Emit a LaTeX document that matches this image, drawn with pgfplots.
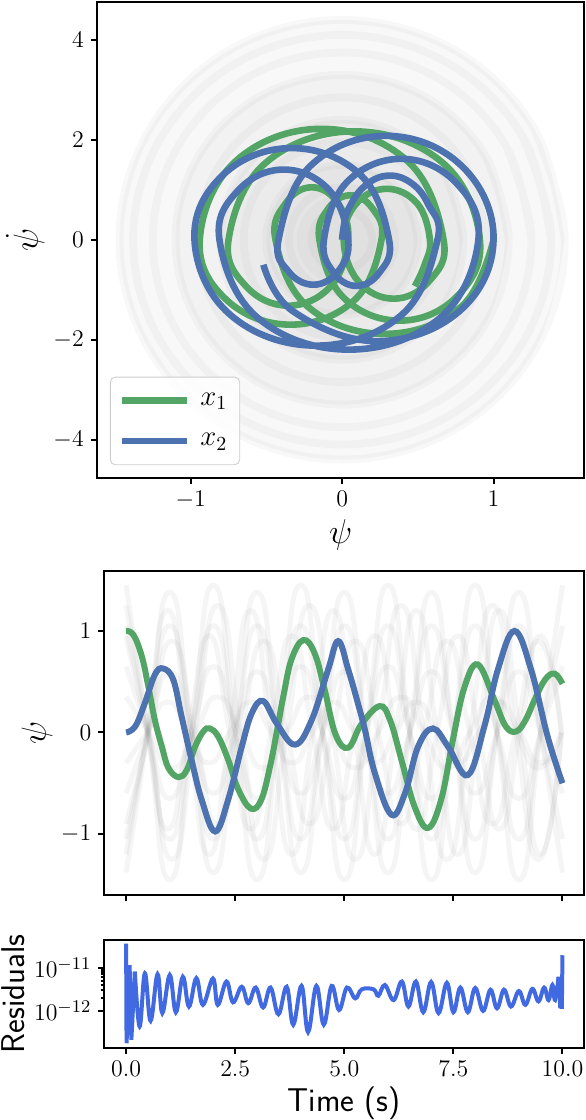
\documentclass[border=0pt]{standalone}
\usepackage{pgfplots}
\pgfplotsset{compat=1.18}
\usepackage{pgfplotstable}
\definecolor{sbgreen}{RGB}{82,165,100}
\definecolor{sbblue}{RGB}{76,114,176}
\definecolor{resblue}{RGB}{65,105,225}

% gray background trajectories, period 2.0
\pgfplotstableread{
t g1 g2 g7 g8 g11 g12
0 1.45 -1.38 0.65 -0.60 1.05 -1.05
0.5 0 0 0 0 0 0
1 -1.45 1.38 -0.65 0.60 -1.05 1.05
1.5 0 0 0 0 0 0
2 1.45 -1.38 0.65 -0.60 1.05 -1.05
2.5 0 0 0 0 0 0
3 -1.45 1.38 -0.65 0.60 -1.05 1.05
3.5 0 0 0 0 0 0
4 1.45 -1.38 0.65 -0.60 1.05 -1.05
4.5 0 0 0 0 0 0
5 -1.45 1.38 -0.65 0.60 -1.05 1.05
5.5 0 0 0 0 0 0
6 1.45 -1.38 0.65 -0.60 1.05 -1.05
6.5 0 0 0 0 0 0
7 -1.45 1.38 -0.65 0.60 -1.05 1.05
7.5 0 0 0 0 0 0
8 1.45 -1.38 0.65 -0.60 1.05 -1.05
8.5 0 0 0 0 0 0
9 -1.45 1.38 -0.65 0.60 -1.05 1.05
9.5 0 0 0 0 0 0
10 1.45 -1.38 0.65 -0.60 1.05 -1.05
}\grayA
% period 2.1
\pgfplotstableread{
t g3 g6 g9
0 1.25 -0.9 0.35
0.525 0 0 0
1.05 -1.25 0.9 -0.35
1.575 0 0 0
2.1 1.25 -0.9 0.35
2.625 0 0 0
3.15 -1.25 0.9 -0.35
3.675 0 0 0
4.2 1.25 -0.9 0.35
4.725 0 0 0
5.25 -1.25 0.9 -0.35
5.775 0 0 0
6.3 1.25 -0.9 0.35
6.825 0 0 0
7.35 -1.25 0.9 -0.35
7.875 0 0 0
8.4 1.25 -0.9 0.35
8.925 0 0 0
9.45 -1.25 0.9 -0.35
9.975 0 0 0
}\grayB
% period 1.9
\pgfplotstableread{
t g4 g5 g10
0 -1.2 0.95 -0.3
0.475 0 0 0
0.95 1.2 -0.95 0.3
1.425 0 0 0
1.9 -1.2 0.95 -0.3
2.375 0 0 0
2.85 1.2 -0.95 0.3
3.325 0 0 0
3.8 -1.2 0.95 -0.3
4.275 0 0 0
4.75 1.2 -0.95 0.3
5.225 0 0 0
5.7 -1.2 0.95 -0.3
6.175 0 0 0
6.65 1.2 -0.95 0.3
7.125 0 0 0
7.6 -1.2 0.95 -0.3
8.075 0 0 0
8.55 1.2 -0.95 0.3
9.025 0 0 0
9.5 -1.2 0.95 -0.3
9.975 0 0 0
}\grayC

% x1 time series
\pgfplotstableread{
t psi
0 1.0
0.17 0.96
0.36 0.75
0.51 0.45
0.66 0.12
0.82 -0.14
0.97 -0.35
1.20 -0.44
1.39 -0.37
1.58 -0.14
1.77 0.01
1.92 0.04
2.11 -0.04
2.34 -0.27
2.57 -0.56
2.86 -0.75
3.10 -0.66
3.30 -0.33
3.45 0.0
3.60 0.35
3.79 0.72
4.06 0.91
4.32 0.78
4.55 0.42
4.80 -0.02
5.09 -0.15
5.39 0.08
5.81 0.26
6.05 0.12
6.31 -0.27
6.61 -0.73
6.92 -0.94
7.22 -0.66
7.49 -0.07
7.75 0.44
8.06 0.67
8.44 0.32
8.70 0.06
8.94 0.01
9.15 0.12
9.36 0.32
9.60 0.52
9.82 0.58
10.0 0.48
}\xone
% x2 time series
\pgfplotstableread{
t psi
0 0
0.21 0.06
0.43 0.29
0.66 0.57
0.85 0.63
1.08 0.52
1.27 0.16
1.50 -0.27
1.73 -0.66
2.04 -0.975
2.34 -0.66
2.65 -0.14
2.88 0.19
3.14 0.31
3.45 0.09
3.87 -0.12
4.25 0.12
4.63 0.62
4.86 0.90
5.09 0.62
5.31 0.29
5.47 0.03
5.70 -0.40
6.08 -0.81
6.39 -0.60
6.69 -0.14
7.03 0.04
7.38 -0.14
7.83 -0.42
8.21 0.06
8.52 0.62
8.90 1.0
9.28 0.62
9.66 -0.04
10.0 -0.50
}\xtwo

\pgfplotsset{
  every axis/.append style={
    scale only axis,
    axis line style={line width=1bp},
    every tick/.style={line width=1bp, black},
    tick align=outside,
    major tick length=3bp,
    minor tick length=1.8bp,
    xtick pos=left, ytick pos=left,
    tick label style={font=\fontsize{12.5}{15}\selectfont},
    label style={font=\fontsize{16.5}{20}\selectfont},
  },
  gr/.style={color=black!50, draw opacity=0.08, line width=2.5bp, smooth, tension=1, forget plot},
  ring/.style={color=black!50, draw opacity=0.06, line width=4bp, smooth, tension=0.63, forget plot},
  disk/.style={fill=black!50, fill opacity=0.055, draw=none, smooth, tension=0.63, forget plot},
}

\begin{document}
\begin{tikzpicture}
\useasboundingbox (0,0) rectangle (293bp,560bp);

% ---------------- phase portrait ----------------
\begin{axis}[
  at={(48.4bp,321bp)}, anchor=south west,
  width=243.8bp, height=238bp,
  xmin=-1.62, xmax=1.60, ymin=-4.77, ymax=4.76,
  xtick={-1,0,1}, ytick={-4,-2,0,2,4},
  xlabel={$\psi$}, ylabel={$\dot{\psi}$},
  xlabel style={at={(axis description cs:0.5,0)}, anchor=base, yshift=-32.8bp},
  ylabel style={at={(axis description cs:-0.1214,0.5)}, anchor=base},
  legend style={at={(axis description cs:0.027,0.027)}, anchor=south west,
    draw=black!20, rounded corners=2.5bp, fill=white, fill opacity=0.8, text opacity=1,
    font=\fontsize{14}{16}\selectfont, row sep=8.5bp, inner xsep=4.2bp, inner ysep=6bp,
    cells={anchor=west}, /tikz/every odd column/.append style={column sep=3bp}},
  legend image code/.code={\draw[#1] (0bp,0bp) -- (32.5bp,0bp);},
]
\addplot[disk] coordinates {(1.47,0)(1.273,2.2)(0.735,3.81)(0,4.4)(-0.735,3.81)(-1.273,2.2)(-1.47,0)(-1.273,-2.2)(-0.735,-3.81)(0,-4.4)(0.735,-3.81)(1.273,-2.2)(1.47,0)} -- cycle;
\addplot[disk] coordinates {(1.1,0)(0.953,1.65)(0.55,2.858)(0,3.3)(-0.55,2.858)(-0.953,1.65)(-1.1,0)(-0.953,-1.65)(-0.55,-2.858)(0,-3.3)(0.55,-2.858)(0.953,-1.65)(1.1,0)} -- cycle;
\addplot[disk] coordinates {(0.8,0)(0.693,1.2)(0.4,2.078)(0,2.4)(-0.4,2.078)(-0.693,1.2)(-0.8,0)(-0.693,-1.2)(-0.4,-2.078)(0,-2.4)(0.4,-2.078)(0.693,-1.2)(0.8,0)} -- cycle;
\addplot[disk] coordinates {(0.5,0)(0.433,0.75)(0.25,1.299)(0,1.5)(-0.25,1.299)(-0.433,0.75)(-0.5,0)(-0.433,-0.75)(-0.25,-1.299)(0,-1.5)(0.25,-1.299)(0.433,-0.75)(0.5,0)} -- cycle;
\addplot[disk] coordinates {(0.3,0)(0.26,0.45)(0.15,0.779)(0,0.9)(-0.15,0.779)(-0.26,0.45)(-0.3,0)(-0.26,-0.45)(-0.15,-0.779)(0,-0.9)(0.15,-0.779)(0.26,-0.45)(0.3,0)} -- cycle;
\addplot[ring] coordinates {(0.2,0)(0.173,0.3)(0.1,0.52)(0,0.6)(-0.1,0.52)(-0.173,0.3)(-0.2,0)(-0.173,-0.3)(-0.1,-0.52)(0,-0.6)(0.1,-0.52)(0.173,-0.3)(0.2,0)(0.173,0.3)};
\addplot[ring] coordinates {(0.35,0)(0.303,0.525)(0.175,0.909)(0,1.05)(-0.175,0.909)(-0.303,0.525)(-0.35,0)(-0.303,-0.525)(-0.175,-0.909)(0,-1.05)(0.175,-0.909)(0.303,-0.525)(0.35,0)(0.303,0.525)};
\addplot[ring] coordinates {(0.5,0)(0.433,0.75)(0.25,1.299)(0,1.5)(-0.25,1.299)(-0.433,0.75)(-0.5,0)(-0.433,-0.75)(-0.25,-1.299)(0,-1.5)(0.25,-1.299)(0.433,-0.75)(0.5,0)(0.433,0.75)};
\addplot[ring] coordinates {(0.65,0)(0.563,0.975)(0.325,1.689)(0,1.95)(-0.325,1.689)(-0.563,0.975)(-0.65,0)(-0.563,-0.975)(-0.325,-1.689)(0,-1.95)(0.325,-1.689)(0.563,-0.975)(0.65,0)(0.563,0.975)};
\addplot[ring] coordinates {(0.8,0)(0.693,1.2)(0.4,2.078)(0,2.4)(-0.4,2.078)(-0.693,1.2)(-0.8,0)(-0.693,-1.2)(-0.4,-2.078)(0,-2.4)(0.4,-2.078)(0.693,-1.2)(0.8,0)(0.693,1.2)};
\addplot[ring] coordinates {(0.95,0)(0.823,1.425)(0.475,2.468)(0,2.85)(-0.475,2.468)(-0.823,1.425)(-0.95,0)(-0.823,-1.425)(-0.475,-2.468)(0,-2.85)(0.475,-2.468)(0.823,-1.425)(0.95,0)(0.823,1.425)};
\addplot[ring] coordinates {(1.1,0)(0.953,1.65)(0.55,2.858)(0,3.3)(-0.55,2.858)(-0.953,1.65)(-1.1,0)(-0.953,-1.65)(-0.55,-2.858)(0,-3.3)(0.55,-2.858)(0.953,-1.65)(1.1,0)(0.953,1.65)};
\addplot[ring] coordinates {(1.25,0)(1.083,1.875)(0.625,3.248)(0,3.75)(-0.625,3.248)(-1.083,1.875)(-1.25,0)(-1.083,-1.875)(-0.625,-3.248)(0,-3.75)(0.625,-3.248)(1.083,-1.875)(1.25,0)(1.083,1.875)};
\addplot[ring] coordinates {(1.38,0)(1.195,2.05)(0.69,3.551)(0,4.1)(-0.69,3.551)(-1.195,2.05)(-1.38,0)(-1.195,-2.05)(-0.69,-3.551)(0,-4.1)(0.69,-3.551)(1.195,-2.05)(1.38,0)(1.195,2.05)};
\addplot[ring] coordinates {(1.47,0)(1.273,2.2)(0.735,3.81)(0,4.4)(-0.735,3.81)(-1.273,2.2)(-1.47,0)(-1.273,-2.2)(-0.735,-3.81)(0,-4.4)(0.735,-3.81)(1.273,-2.2)(1.47,0)(1.273,2.2)};
% x1 phase
\addplot[sbgreen, line width=3.3bp, smooth, tension=0.68] coordinates {
(1.0,0)(0.789,-1.333)(0.28,-1.885)(-0.229,-1.333)
(-0.44,0)(-0.370,0.742)(-0.20,1.05)(-0.030,0.742)
(0.04,0)(-0.076,-0.933)(-0.355,-1.32)(-0.634,-0.933)
(-0.75,0)(-0.507,1.534)(0.08,2.17)(0.667,1.534)
(0.91,0)(0.755,-1.145)(0.38,-1.62)(0.005,-1.145)
(-0.15,0)(-0.090,0.629)(0.055,0.89)(0.200,0.629)
(0.26,0)(0.084,-1.202)(-0.34,-1.70)(-0.764,-1.202)
(-0.94,0)(-0.704,1.57)(-0.135,2.22)(0.434,1.57)
(0.67,0)(0.573,-0.834)(0.34,-1.18)(0.107,-0.834)
(0.01,0)(0.093,0.721)(0.295,1.02)(0.497,0.721)
(0.58,0)(0.545,-0.5)(0.48,-0.93)};
\addlegendentry{$x_1$}
% x2 phase
\addplot[sbblue, line width=3.3bp, smooth, tension=0.68] coordinates {
(0,0)(0.01,0.25)(0.04,0.6)(0.14,1.05)(0.29,1.28)(0.45,1.15)(0.57,0.7)
(0.63,0)(0.395,-1.499)(-0.1725,-2.12)(-0.740,-1.499)
(-0.975,0)(-0.787,1.297)(-0.3325,1.835)(0.122,1.297)
(0.31,0)(0.247,-0.654)(0.095,-0.925)(-0.057,-0.654)
(-0.12,0)(0.029,1.145)(0.39,1.62)(0.751,1.145)
(0.90,0)(0.650,-1.556)(0.045,-2.20)(-0.560,-1.556)
(-0.81,0)(-0.685,0.993)(-0.385,1.405)(-0.085,0.993)
(0.04,0)(-0.027,-0.636)(-0.19,-0.90)(-0.353,-0.636)
(-0.42,0)(-0.212,1.471)(0.29,2.08)(0.792,1.471)
(1.0,0)(0.773,-1.435)(0.225,-2.03)(-0.323,-1.435)(-0.52,-0.5)};
\addlegendentry{$x_2$}
\end{axis}

% ---------------- time series ----------------
\begin{axis}[
  at={(52.15bp,112.5bp)}, anchor=south west,
  width=240bp, height=162bp,
  xmin=-0.5, xmax=10.5, ymin=-1.60, ymax=1.59,
  xtick={0,2.5,5,7.5,10}, xticklabels={},
  ytick={-1,0,1},
  ylabel={$\psi$},
  ylabel style={at={(axis description cs:-0.1221,0.5)}, anchor=base},
]
\addplot[gr] table[x=t,y=g1]{\grayA};
\addplot[gr] table[x=t,y=g2]{\grayA};
\addplot[gr] table[x=t,y=g7]{\grayA};
\addplot[gr] table[x=t,y=g8]{\grayA};
\addplot[gr] table[x=t,y=g11]{\grayA};
\addplot[gr] table[x=t,y=g12]{\grayA};
\addplot[gr] table[x=t,y=g3]{\grayB};
\addplot[gr] table[x=t,y=g6]{\grayB};
\addplot[gr] table[x=t,y=g9]{\grayB};
\addplot[gr] table[x=t,y=g4]{\grayC};
\addplot[gr] table[x=t,y=g5]{\grayC};
\addplot[gr] table[x=t,y=g10]{\grayC};
\addplot[sbgreen, line width=3bp, smooth, tension=0.65] table[x=t,y=psi]{\xone};
\addplot[sbblue, line width=3bp, smooth, tension=0.65] table[x=t,y=psi]{\xtwo};
\end{axis}

% ---------------- residuals ----------------
\begin{axis}[
  at={(52.15bp,36.15bp)}, anchor=south west,
  width=240bp, height=53.85bp,
  xmin=-0.5, xmax=10.5, ymode=log, ymin=1.4e-13, ymax=4.4e-11,
  xtick={0,2.5,5,7.5,10}, xticklabels={$0.0$,$2.5$,$5.0$,$7.5$,$10.0$},
  ytick={1e-12,1e-11},
  xlabel={\sffamily Time (s)}, ylabel={\sffamily Residuals},
  xlabel style={at={(axis description cs:0.5,0)}, anchor=base, yshift=-32bp},
  ylabel style={at={(axis description cs:-0.1667,0.5)}, anchor=base},
]
\addplot[resblue, line width=2bp] coordinates {
(0,3.63e-11)(0.01,1.78e-13)(0.08,1.15e-11)(0.12,2.14e-13)(0.20,8.13e-12)};
\addplot[resblue, line width=2bp, smooth, tension=0.65] coordinates {
(0.20,8.13e-12)
(0.31,4.37e-13)(0.43,7.41e-12)(0.56,5.89e-13)(0.72,7.08e-12)(0.83,8.91e-13)
(1.00,6.76e-12)(1.14,9.33e-13)(1.30,6.17e-12)(1.44,1.26e-12)(1.61,5.75e-12)
(1.76,1.38e-12)(1.99,5.62e-12)(2.10,1.38e-12)(2.30,4.79e-12)(2.45,1.58e-12)
(2.65,3.63e-12)(2.80,1.51e-12)(2.97,3.47e-12)(3.14,1.20e-12)(3.31,3.47e-12)
(3.49,8.32e-13)(3.68,3.63e-12)(3.83,4.79e-13)(4.02,3.80e-12)(4.17,3.24e-13)
(4.36,3.80e-12)(4.53,4.79e-13)(4.71,3.80e-12)(4.88,1.05e-12)(5.06,3.47e-12)
(5.25,1.95e-12)(5.40,3.16e-12)(5.67,3.16e-12)(5.78,2.24e-12)(5.93,3.98e-12)
(6.13,1.78e-12)(6.32,4.79e-12)(6.47,1.26e-12)(6.64,4.79e-12)(6.81,9.33e-13)
(6.99,4.68e-12)(7.16,8.91e-13)(7.35,4.47e-12)(7.50,9.33e-13)(7.66,3.47e-12)
(7.83,9.33e-13)(8.00,3.39e-12)(8.18,1.0e-12)(8.35,3.09e-12)(8.50,1.15e-12)
(8.66,3.09e-12)(8.82,1.26e-12)(9.00,2.88e-12)(9.15,1.38e-12)(9.31,3.24e-12)
(9.45,1.66e-12)(9.58,3.47e-12)(9.68,1.78e-12)(9.77,3.98e-12)(9.83,1.78e-12)
(9.91,6.17e-12)};
\addplot[resblue, line width=2bp] coordinates {
(9.91,6.17e-12)(9.95,1.15e-12)(9.97,5.01e-12)(9.985,1.12e-12)(10.0,1.95e-11)};
\end{axis}
\end{tikzpicture}
\end{document}
